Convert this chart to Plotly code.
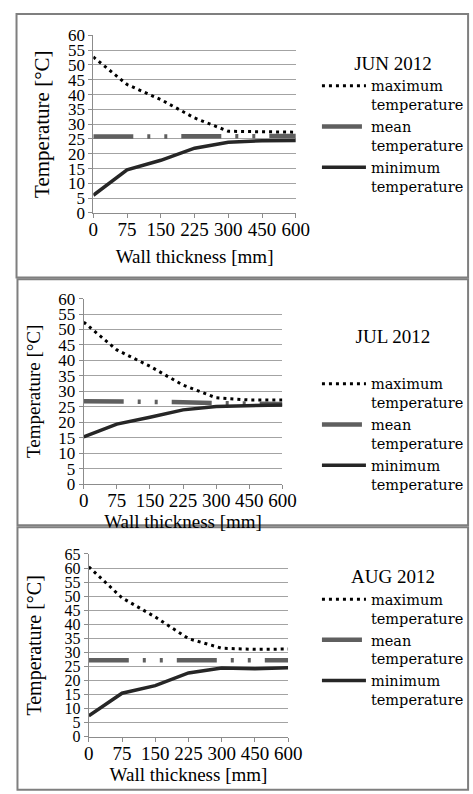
import plotly.graph_objects as go

W, H = 473, 794

categories = ["0", "75", "150", "225", "300", "450", "600"]

months = ["JUN 2012", "JUL 2012<br>\u00a0", "AUG 2012"]

jun_max = [52.7, 43.4, 38.3, 32.1, 27.6, 27.4, 27.3]
jun_mean = [25.8, 25.8, 25.8, 25.8, 25.8, 25.9, 26.0]
jun_min = [6.0, 14.6, 17.8, 21.9, 23.9, 24.4, 24.5]

jul_max = [52.4, 43.4, 38.1, 32.0, 27.9, 27.2, 27.2]
jul_mean = [26.8, 26.8, 26.7, 26.5, 26.2, 26.0, 25.9]
jul_min = [15.3, 19.4, 21.6, 24.0, 25.1, 25.3, 25.6]

aug_max = [60.4, 49.4, 42.6, 34.9, 31.5, 31.1, 31.2]
aug_mean = [27.2, 27.2, 27.2, 27.2, 27.2, 27.2, 27.2]
aug_min = [7.5, 15.5, 18.2, 22.7, 24.5, 24.2, 24.6]

series_names = ["maximum<br>temperature", "mean<br>temperature", "minimum<br>temperature"]
y_max = [60, 60, 65]

data = [
    (jun_max, jun_mean, jun_min),
    (jul_max, jul_mean, jul_min),
    (aug_max, aug_mean, aug_min),
]

# pixel geometry of each panel: plot area (left, right, top, bottom)
plot_px = [(92, 303, 27, 209), (82, 289, 296.7, 486.7), (87.3, 295, 558.3, 745.7)]
legend_px = [(325, 37), (325, 317), (325, 563)]
ytitle_size = [21, 19, 20]
ytick_size = [17, 17, 16]

SERIF = "Liberation Serif"
LEG = "DejaVu Serif"
GRID = "#a3a3a3"
AXC = "#8c8c8c"

fig = go.Figure()
styles = [
    dict(color="#000000", width=3, dash="3px,4px"),
    dict(color="#5f5f5f", width=4.5, dash="40px,14px,3px,14px,3px,14px"),
    dict(color="#262626", width=3.5, dash="solid"),
]

for i, (series, ym) in enumerate(zip(data, y_max)):
    suffix = "" if i == 0 else str(i + 1)
    leg = "legend" + suffix
    for name, vals, st in zip(series_names, series, styles):
        fig.add_trace(go.Scatter(
            x=categories, y=vals, mode="lines", name=name,
            line=st, xaxis="x" + suffix, yaxis="y" + suffix,
            legend=leg, showlegend=True,
        ))
    l, r, t, b = plot_px[i]
    fig.layout["xaxis" + suffix] = dict(
        domain=[l / W, r / W], anchor="y" + suffix, type="category",
        range=[0, len(categories) - 1], showgrid=False, showline=True,
        linecolor=AXC, linewidth=1, ticks="outside", ticklen=4, tickcolor=AXC,
        tickfont=dict(family=SERIF, size=19, color="#000"),
        ticklabelstandoff=-5,
        title=dict(text="Wall thickness [mm]", font=dict(family=SERIF, size=19, color="#000"),
                   standoff=[10, 2, 0][i]),
        zeroline=False, fixedrange=True,
    )
    fig.layout["yaxis" + suffix] = dict(
        domain=[1 - b / H, 1 - t / H], anchor="x" + suffix,
        range=[0, ym], dtick=5, tick0=0, showgrid=True, gridcolor=GRID, gridwidth=1,
        showline=True, linecolor=AXC, linewidth=1, ticks="outside", ticklen=4,
        tickcolor=AXC, tickfont=dict(family=SERIF, size=ytick_size[i], color="#000"),
        title=dict(text="Temperature [°C]", font=dict(family=SERIF, size=ytitle_size[i], color="#000"),
                   standoff=[12, 12, 17][i]),
        zeroline=False, fixedrange=True,
    )
    lx, ly = legend_px[i]
    fig.layout[leg] = dict(
        x=lx / W, y=1 - ly / H, xanchor="left", yanchor="top",
        title=dict(text=months[i], side="top center", font=dict(family=SERIF, size=19, color="#000")),
        font=dict(family=LEG, size=14.5, color="#000"), valign="top",
        bgcolor="rgba(0,0,0,0)", tracegroupgap=0, traceorder="normal",
        itemwidth=44,
    )

# panel frames
frames = [(12, 5, 275), (13, 277, 529), (13, 531, 800)]
shapes = []
for x0, y0, y1 in frames:
    shapes.append(dict(type="rect", xref="paper", yref="paper",
                       x0=x0 / W, x1=1.02, y0=1 - y1 / H, y1=1 - y0 / H,
                       line=dict(color="#7f7f7f", width=2), layer="below"))

fig.update_layout(
    width=W, height=H, margin=dict(l=0, r=0, t=0, b=0),
    paper_bgcolor="white", plot_bgcolor="white",
    shapes=shapes, font=dict(family=SERIF, color="#000"),
)

fig.write_html("out.html")
